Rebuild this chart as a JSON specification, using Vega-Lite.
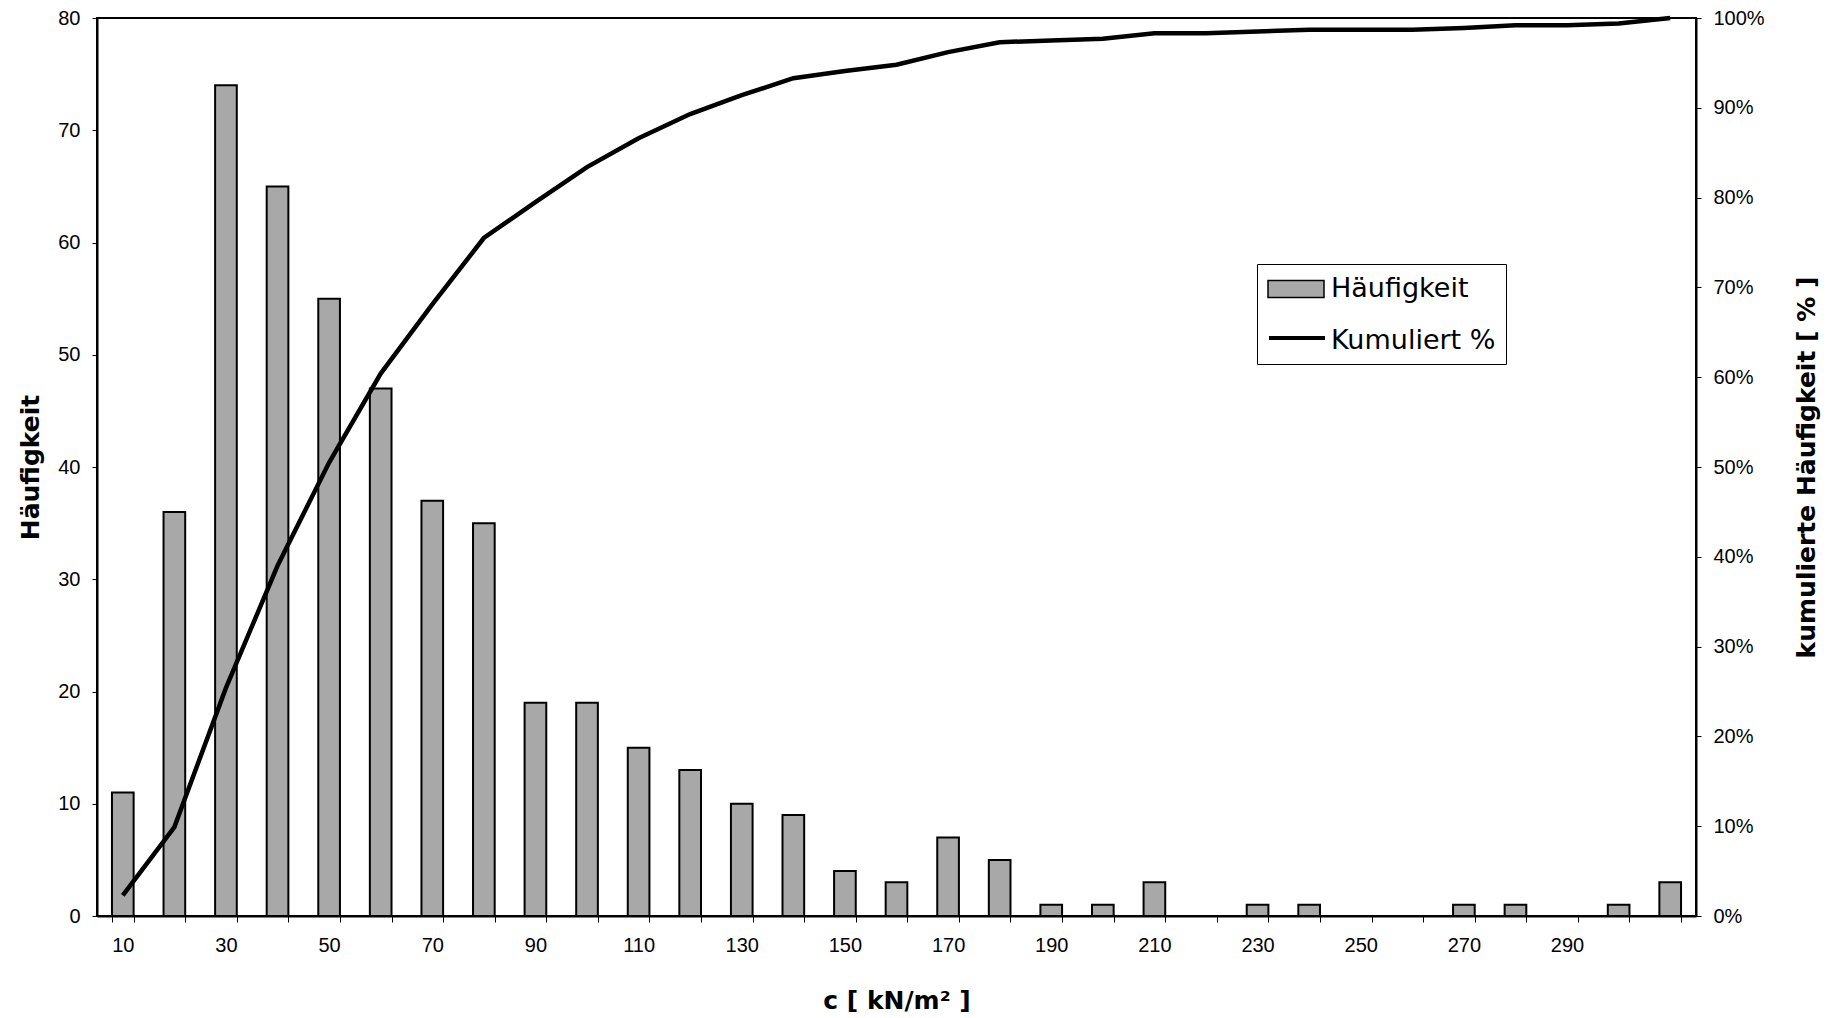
{
  "$schema": "https://vega.github.io/schema/vega-lite/v6.json",
  "autosize": "none",
  "width": 1599,
  "height": 898,
  "padding": {"left": 97, "top": 18, "right": 136, "bottom": 102},
  "background": "white",
  "config": {
    "view": {"stroke": "black", "strokeWidth": 2},
    "axis": {
      "labelFont": "Liberation Sans",
      "labelFontSize": 20,
      "labelColor": "black",
      "titleFont": "DejaVu Sans",
      "titleFontSize": 25,
      "titleFontWeight": "bold",
      "titleColor": "black",
      "domainColor": "black",
      "domainWidth": 2,
      "tickColor": "black",
      "tickWidth": 1,
      "grid": false
    }
  },
  "data": {
    "values": [
      {"c": 10, "haeufigkeit": 11, "kumuliert": 0.023},
      {"c": 20, "haeufigkeit": 36, "kumuliert": 0.099},
      {"c": 30, "haeufigkeit": 74, "kumuliert": 0.254},
      {"c": 40, "haeufigkeit": 65, "kumuliert": 0.390},
      {"c": 50, "haeufigkeit": 55, "kumuliert": 0.505},
      {"c": 60, "haeufigkeit": 47, "kumuliert": 0.604},
      {"c": 70, "haeufigkeit": 37, "kumuliert": 0.681},
      {"c": 80, "haeufigkeit": 35, "kumuliert": 0.755},
      {"c": 90, "haeufigkeit": 19, "kumuliert": 0.795},
      {"c": 100, "haeufigkeit": 19, "kumuliert": 0.834},
      {"c": 110, "haeufigkeit": 15, "kumuliert": 0.866},
      {"c": 120, "haeufigkeit": 13, "kumuliert": 0.893},
      {"c": 130, "haeufigkeit": 10, "kumuliert": 0.914},
      {"c": 140, "haeufigkeit": 9, "kumuliert": 0.933},
      {"c": 150, "haeufigkeit": 4, "kumuliert": 0.941},
      {"c": 160, "haeufigkeit": 3, "kumuliert": 0.948},
      {"c": 170, "haeufigkeit": 7, "kumuliert": 0.962},
      {"c": 180, "haeufigkeit": 5, "kumuliert": 0.973},
      {"c": 190, "haeufigkeit": 1, "kumuliert": 0.975},
      {"c": 200, "haeufigkeit": 1, "kumuliert": 0.977},
      {"c": 210, "haeufigkeit": 3, "kumuliert": 0.983},
      {"c": 220, "haeufigkeit": 0, "kumuliert": 0.983},
      {"c": 230, "haeufigkeit": 1, "kumuliert": 0.985},
      {"c": 240, "haeufigkeit": 1, "kumuliert": 0.987},
      {"c": 250, "haeufigkeit": 0, "kumuliert": 0.987},
      {"c": 260, "haeufigkeit": 0, "kumuliert": 0.987},
      {"c": 270, "haeufigkeit": 1, "kumuliert": 0.989},
      {"c": 280, "haeufigkeit": 1, "kumuliert": 0.992},
      {"c": 290, "haeufigkeit": 0, "kumuliert": 0.992},
      {"c": 300, "haeufigkeit": 1, "kumuliert": 0.994},
      {"c": 310, "haeufigkeit": 3, "kumuliert": 1.0}
    ]
  },
  "encoding": {
    "x": {
      "field": "c",
      "type": "ordinal",
      "sort": null,
      "scale": {"paddingInner": 0.58, "paddingOuter": 0.29},
      "axis": {
        "title": "c [ kN/m² ]",
        "labelAngle": 0,
        "tickBand": "extent",
        "tickSize": 6,
        "labelPadding": 13,
        "titlePadding": 33,
        "labelExpr": "(datum.value % 20 == 10 && datum.value < 300) ? datum.label : ''"
      }
    }
  },
  "layer": [
    {
      "mark": {"type": "bar", "strokeWidth": 2},
      "encoding": {
        "y": {
          "field": "haeufigkeit",
          "type": "quantitative",
          "scale": {"domain": [0, 80], "nice": false},
          "axis": {
            "title": "Häufigkeit",
            "values": [0, 10, 20, 30, 40, 50, 60, 70, 80],
            "tickSize": 5,
            "labelPadding": 12,
            "titlePadding": 14
          }
        },
        "fill": {
          "datum": "Häufigkeit",
          "type": "nominal",
          "scale": {"domain": ["Häufigkeit", "Kumuliert %"], "range": ["#a8a8a8", "transparent"]},
          "legend": {
            "title": null,
            "orient": "none",
            "legendX": 1160,
            "legendY": 246,
            "padding": 10,
            "strokeColor": "black",
            "fillColor": "white",
            "labelFont": "DejaVu Sans",
            "labelFontSize": 27,
            "labelColor": "black",
            "labelLimit": 400,
            "symbolType": "M-2,-0.6H2V0.6H-2Z",
            "symbolSize": 784,
            "symbolStrokeWidth": 1.5,
            "labelOffset": 20,
            "symbolOffset": 14,
            "rowPadding": 24
          }
        },
        "stroke": {
          "datum": "Häufigkeit",
          "type": "nominal",
          "scale": {"domain": ["Häufigkeit", "Kumuliert %"], "range": ["black", "transparent"]},
          "legend": {
            "title": null,
            "orient": "none",
            "legendX": 1160,
            "legendY": 246,
            "padding": 10,
            "strokeColor": "black",
            "fillColor": "white",
            "labelFont": "DejaVu Sans",
            "labelFontSize": 27,
            "labelColor": "black",
            "labelLimit": 400,
            "symbolType": "M-2,-0.6H2V0.6H-2Z",
            "symbolSize": 784,
            "symbolStrokeWidth": 1.5,
            "labelOffset": 20,
            "symbolOffset": 14,
            "rowPadding": 24
          }
        }
      }
    },
    {
      "mark": {"type": "line", "strokeWidth": 4.5},
      "encoding": {
        "y": {
          "field": "kumuliert",
          "type": "quantitative",
          "scale": {"domain": [0, 1], "nice": false},
          "axis": {
            "title": "kumulierte Häufigkeit [ % ]",
            "orient": "right",
            "format": ".0%",
            "values": [0, 0.1, 0.2, 0.3, 0.4, 0.5, 0.6, 0.7, 0.8, 0.9, 1.0],
            "tickSize": 5,
            "labelPadding": 12,
            "titleAngle": 270,
            "titleBaseline": "top",
            "titlePadding": 30
          }
        },
        "stroke": {
          "datum": "Kumuliert %",
          "type": "nominal",
          "scale": {"domain": ["Kumuliert %"], "range": ["black"]},
          "legend": {
            "title": null,
            "orient": "none",
            "legendX": 1160,
            "legendY": 294,
            "padding": 10,
            "labelFont": "DejaVu Sans",
            "labelFontSize": 27,
            "labelOpacity": 0,
            "labelLimit": 400,
            "symbolType": "M-2,0H2",
            "symbolSize": 784,
            "symbolStrokeWidth": 4,
            "labelOffset": 20,
            "symbolOffset": 14
          }
        }
      }
    }
  ],
  "resolve": {
    "scale": {"y": "independent", "fill": "independent", "stroke": "independent"},
    "legend": {"fill": "independent", "stroke": "independent"}
  }
}
